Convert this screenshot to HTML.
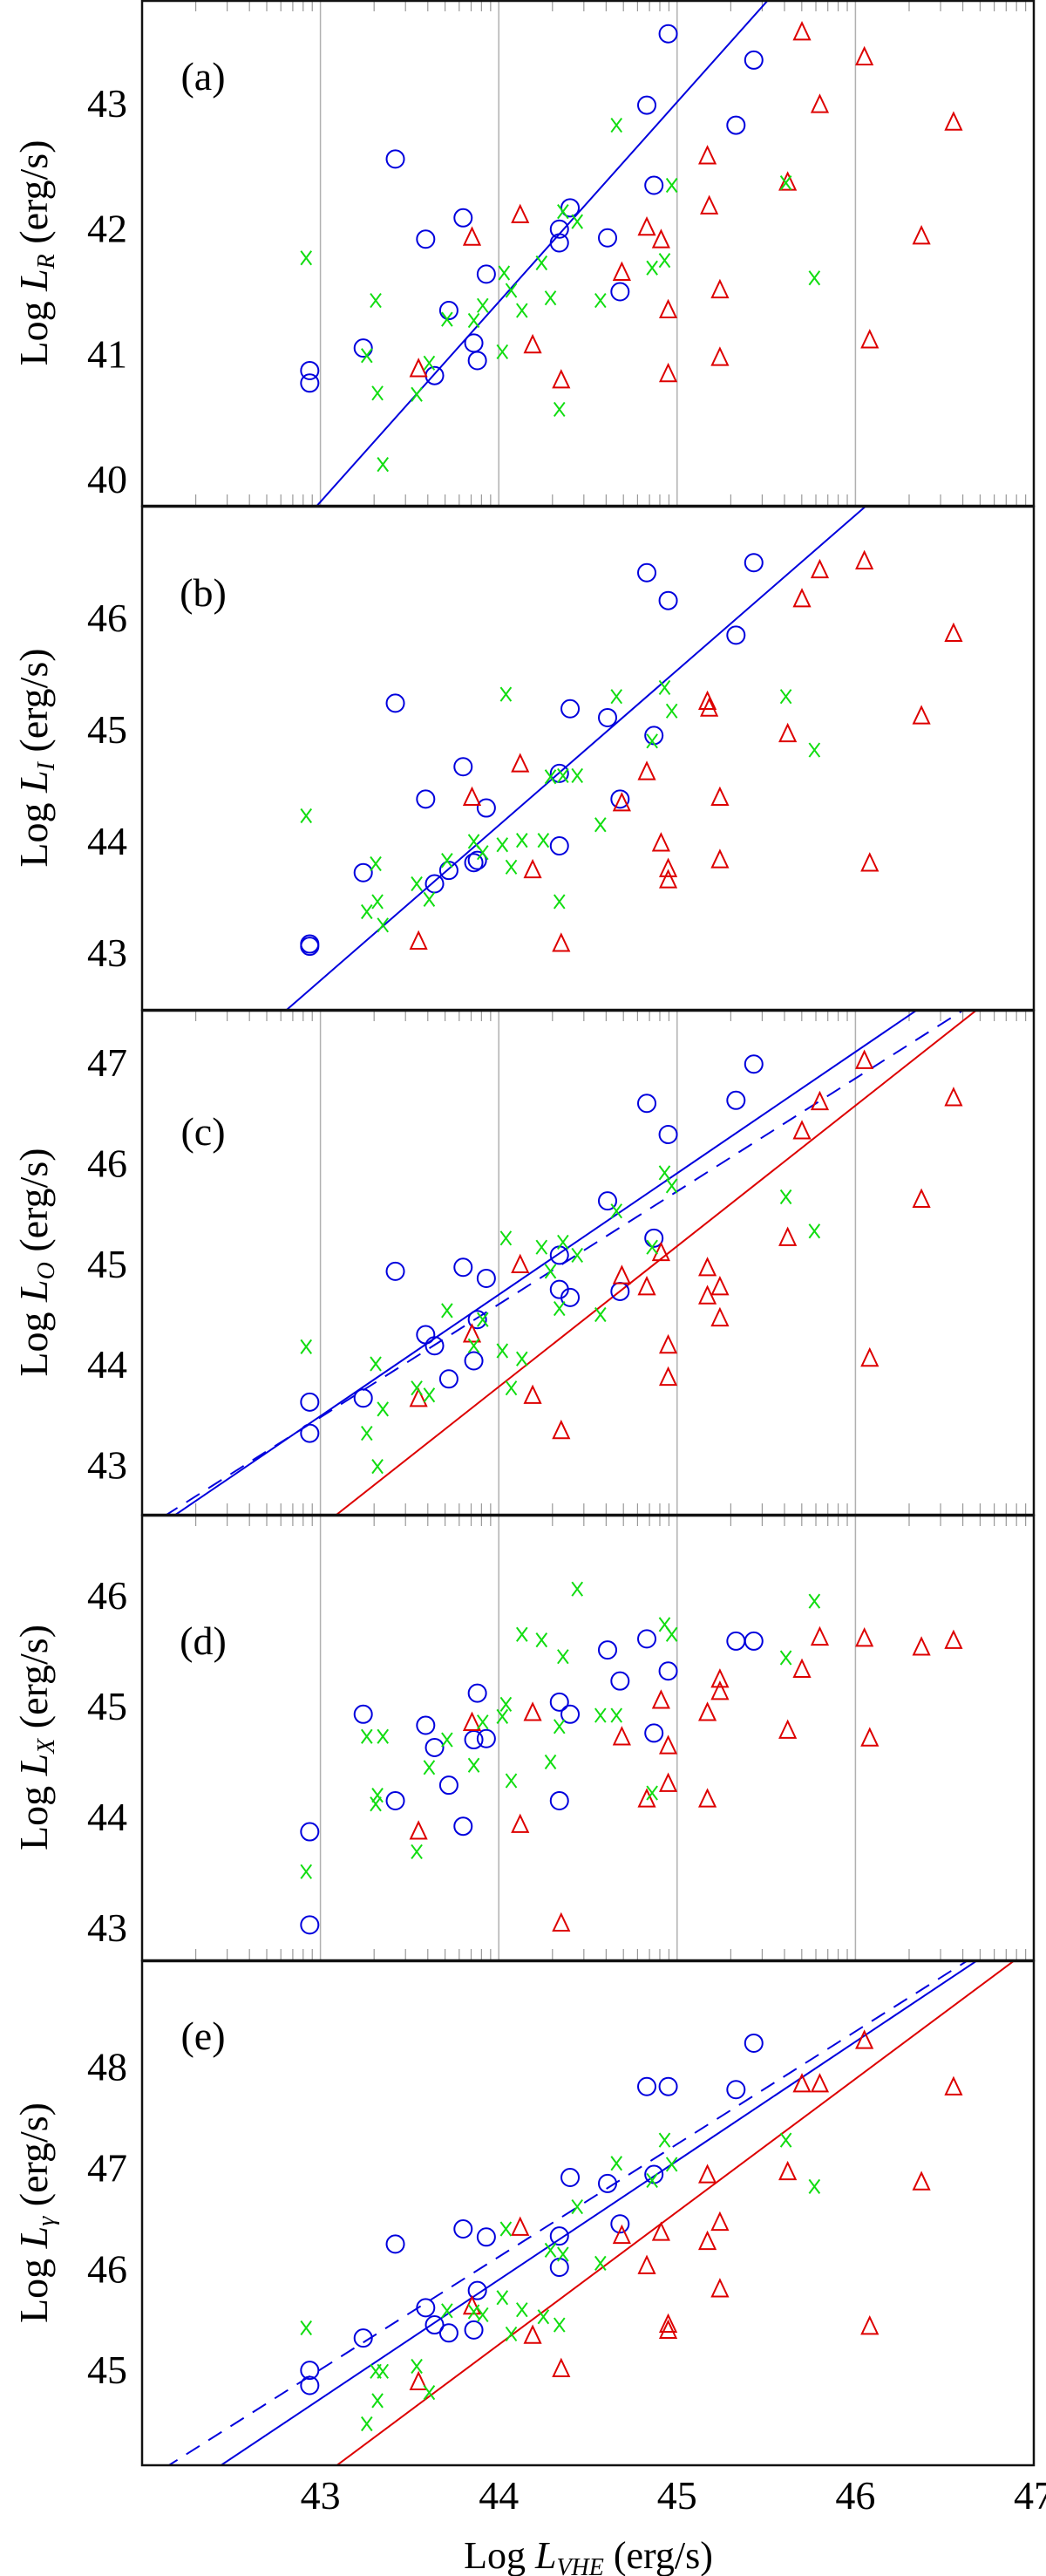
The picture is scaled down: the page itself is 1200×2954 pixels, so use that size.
<!DOCTYPE html>
<html><head><meta charset="utf-8"><title>Luminosity correlations</title>
<style>html,body{margin:0;padding:0;background:#fff}svg{display:block}
svg text{font-family:"Liberation Serif","Times New Roman",serif}</style></head>
<body>
<svg id="fig" xmlns="http://www.w3.org/2000/svg" width="1200" height="2954" viewBox="0 0 1200 2954"></svg>
<script>
// ---- data ----
const xTicks = [43, 44, 45, 46, 47];
const panelNames = ['a', 'b', 'c', 'd', 'e'];
const panelLabels = ['(a)', '(b)', '(c)', '(d)', '(e)'];
const yTitles = ['R', 'I', 'O', 'X', 'γ'];
const yDomains = [[39.79, 43.83], [42.49, 47.01], [42.51, 47.53], [42.71, 46.73], [44.06, 49.06]];
const yTicksA = [40, 41, 42, 43];
const yTicksB = [43, 44, 45, 46];
const yTicksC = [43, 44, 45, 46, 47];
const yTicksD = [43, 44, 45, 46];
const yTicksE = [45, 46, 47, 48];

const aBlueX = [44.95,45.43,44.83,45.33,43.42,44.87,44.40,43.80,43.59,44.34,44.34,44.61,43.93,44.68,43.72,43.24,43.86,43.88,42.94,42.94,43.64];
const aBlueY = [43.56,43.35,42.99,42.83,42.56,42.35,42.17,42.09,41.92,42.00,41.89,41.93,41.64,41.50,41.35,41.05,41.09,40.95,40.87,40.77,40.83];
const aRedX = [45.70,46.05,45.80,46.55,45.17,45.62,45.18,44.12,43.85,44.83,44.91,46.37,44.69,45.24,44.95,44.19,46.08,45.24,43.55,44.95,44.35];
const aRedY = [43.57,43.37,42.99,42.85,42.58,42.37,42.18,42.11,41.93,42.01,41.91,41.94,41.65,41.51,41.35,41.07,41.11,40.97,40.88,40.84,40.79];
const aGreenX = [42.92,44.66,44.97,45.61,44.36,44.44,44.24,44.93,44.86,44.03,45.77,44.07,43.31,44.29,44.57,43.91,44.13,43.71,43.86,44.02,43.26,43.61,43.32,43.54,44.34,43.35];
const aGreenY = [41.77,42.83,42.35,42.37,42.14,42.06,41.73,41.75,41.69,41.65,41.61,41.51,41.43,41.45,41.43,41.39,41.35,41.28,41.27,41.02,40.99,40.93,40.69,40.68,40.56,40.12];

const bBlueX = [44.83,45.43,44.95,45.33,43.42,44.40,44.61,44.87,43.80,44.34,43.59,44.68,43.93,44.34,43.24,43.86,43.88,43.72,43.64,42.94,42.94];
const bBlueY = [46.41,46.50,46.16,45.85,45.24,45.19,45.11,44.95,44.67,44.61,44.38,44.38,44.30,43.96,43.72,43.81,43.83,43.74,43.62,43.08,43.06];
const bRedX = [46.05,45.80,45.70,46.55,45.17,45.18,46.37,45.62,44.12,44.83,43.85,44.69,45.24,44.91,45.24,46.08,44.19,44.95,44.95,43.55,44.35];
const bRedY = [46.51,46.43,46.17,45.86,45.25,45.19,45.12,44.96,44.69,44.62,44.39,44.34,44.39,43.98,43.83,43.80,43.74,43.75,43.65,43.10,43.08];
const bGreenX = [42.92,44.04,44.66,44.93,45.61,44.97,44.86,45.77,44.29,44.36,44.44,44.57,43.86,44.02,44.13,44.25,43.91,43.71,43.31,44.07,43.54,43.61,43.32,43.26,43.35,44.34];
const bGreenY = [44.23,45.32,45.30,45.38,45.30,45.17,44.90,44.82,44.58,44.59,44.59,44.15,44.00,43.97,44.01,44.01,43.90,43.83,43.80,43.77,43.62,43.48,43.46,43.37,43.25,43.46];

const cBlueX = [45.43,45.33,44.83,44.95,44.61,44.87,44.34,43.42,43.80,43.93,44.34,44.40,44.68,43.88,43.59,43.64,43.86,43.72,43.24,42.94,42.94];
const cBlueY = [46.99,46.63,46.60,46.29,45.63,45.26,45.09,44.93,44.97,44.86,44.75,44.67,44.73,44.45,44.30,44.19,44.04,43.86,43.67,43.63,43.32];
const cRedX = [46.05,45.80,46.55,45.70,46.37,45.62,44.91,44.12,45.17,44.69,44.83,45.24,45.17,45.24,43.85,44.95,46.08,44.95,43.55,44.19,44.35];
const cRedY = [47.02,46.61,46.65,46.32,45.64,45.26,45.11,44.99,44.96,44.88,44.77,44.77,44.68,44.46,44.30,44.19,44.06,43.87,43.66,43.69,43.34];
const cGreenX = [42.92,44.93,44.97,45.61,44.66,45.77,44.04,44.36,44.24,44.86,44.44,44.29,43.71,44.34,44.57,43.91,43.86,44.02,43.31,44.13,44.07,43.54,43.61,43.35,43.26,43.32];
const cGreenY = [44.18,45.91,45.78,45.67,45.53,45.33,45.26,45.22,45.17,45.17,45.09,44.93,44.54,44.56,44.50,44.45,44.19,44.14,44.01,44.06,43.77,43.77,43.70,43.56,43.32,42.99];

const dBlueX = [42.94,42.94,43.24,43.42,43.59,43.64,43.72,43.80,43.86,43.93,43.88,44.34,44.40,44.34,44.61,44.68,44.83,44.87,44.95,45.33,45.43];
const dBlueY = [43.87,43.03,44.93,44.15,44.83,44.63,44.29,43.92,44.70,44.71,45.12,45.04,44.93,44.15,45.51,45.23,45.61,44.76,45.32,45.59,45.59];
const dRedX = [43.55,43.85,44.12,44.19,44.35,44.69,44.83,44.91,44.95,44.95,45.17,45.17,45.24,45.24,45.62,45.70,45.80,46.05,46.08,46.37,46.55];
const dRedY = [43.87,44.85,43.93,44.94,43.04,44.72,44.16,45.05,44.64,44.30,44.94,44.16,45.24,45.13,44.78,45.33,45.62,45.61,44.71,45.53,45.59];
const dGreenX = [42.92,43.26,43.35,43.31,43.32,43.54,43.61,43.71,43.86,43.91,44.02,44.04,44.07,44.13,44.24,44.29,44.36,44.34,44.44,44.57,44.66,44.86,44.93,44.97,45.61,45.77];
const dGreenY = [43.51,44.73,44.73,44.12,44.20,43.69,44.45,44.70,44.47,44.86,44.91,45.02,44.33,45.65,45.60,44.50,45.45,44.82,46.06,44.92,44.92,44.22,45.74,45.65,45.44,45.95];

const eBlueX = [45.43,44.83,44.95,45.33,44.40,44.61,44.87,43.80,43.93,43.42,44.68,44.34,44.34,43.88,43.59,43.64,43.72,43.86,43.24,42.94,42.94];
const eBlueY = [48.24,47.81,47.81,47.78,46.91,46.85,46.94,46.40,46.32,46.25,46.45,46.33,46.02,45.79,45.62,45.45,45.37,45.40,45.32,45.00,44.85];
const eRedX = [46.05,45.70,45.80,46.55,45.17,45.62,46.37,45.24,44.12,44.69,44.91,45.17,44.83,45.24,43.85,44.95,44.95,46.08,44.19,44.35,43.55];
const eRedY = [48.26,47.83,47.83,47.80,46.93,46.96,46.86,46.46,46.41,46.33,46.36,46.27,46.03,45.80,45.63,45.45,45.39,45.43,45.34,45.01,44.88];
const eGreenX = [42.92,44.93,45.61,44.66,44.97,44.86,45.77,44.44,44.04,44.29,44.36,44.57,44.02,44.13,43.71,43.86,43.91,44.25,44.34,44.07,43.54,43.31,43.35,43.32,43.61,43.26];
const eGreenY = [45.42,47.28,47.28,47.05,47.04,46.88,46.82,46.62,46.40,46.19,46.15,46.06,45.72,45.60,45.59,45.58,45.55,45.53,45.45,45.36,45.04,44.99,44.99,44.70,44.78,44.47];

// fit lines: [slope, intercept]
const fitA = [[1.597, -28.85]];
const fitB = [[1.391, -17.06]];
const fitC = [[1.207, -8.41], [1.123, -4.81], [1.398, -17.73]];
const fitD = [];
const fitE = [[1.179, -5.98], [1.116, -2.98], [1.316, -12.65]];
const fitKinds = ['blue-solid', 'blue-dashed', 'red-solid'];

// ---- layout ----
const NS = 'http://www.w3.org/2000/svg';
const svg = document.getElementById('fig');
const X0 = 163, X1 = 1186, XMIN = 42, XMAX = 47;
const panelTops = [0, 580, 1158, 1737, 2248, 2827];
const labelOffsets = [88, 100, 140, 145, 87];
const hasGrid = [true, false, true, true, false];
const BLUE = '#0000dd', RED = '#dd0000', GREEN = '#11dd11';
function sx(v) { return X0 + (v - XMIN) / (XMAX - XMIN) * (X1 - X0); }
function mk(tag, attrs, parent) {
  const e = document.createElementNS(NS, tag);
  for (const k in attrs) e.setAttribute(k, attrs[k]);
  (parent || svg).appendChild(e);
  return e;
}
const defs = mk('defs', {});

const allY = [yTicksA, yTicksB, yTicksC, yTicksD, yTicksE];
const allData = [
  [aBlueX, aBlueY, aRedX, aRedY, aGreenX, aGreenY],
  [bBlueX, bBlueY, bRedX, bRedY, bGreenX, bGreenY],
  [cBlueX, cBlueY, cRedX, cRedY, cGreenX, cGreenY],
  [dBlueX, dBlueY, dRedX, dRedY, dGreenX, dGreenY],
  [eBlueX, eBlueY, eRedX, eRedY, eGreenX, eGreenY]];
const allFits = [fitA, fitB, fitC, fitD, fitE];

for (let p = 0; p < 5; p++) {
  const top = panelTops[p], bot = panelTops[p + 1];
  const [ymin, ymax] = yDomains[p];
  const sy = v => bot - (v - ymin) / (ymax - ymin) * (bot - top);
  const g = mk('g', {});
  
  
  const cp = mk('clipPath', { id: 'clip' + p }, defs);
  mk('rect', { x: X0, y: top, width: X1 - X0, height: bot - top }, cp);

  if (hasGrid[p]) {
    for (let t = 43; t <= 46; t++) {
      const gl = mk('line', { x1: sx(t), x2: sx(t), y1: top, y2: bot, stroke: '#b0b0b0', 'stroke-width': 1.5 }, g);
      
      
    }
    for (let d = 42; d < 47; d++) {
      for (let m = 2; m <= 9; m++) {
        const xx = sx(d + Math.log10(m));
        const t1 = mk('line', { x1: xx, x2: xx, y1: top, y2: top + 13, stroke: '#999', 'stroke-width': 1.2 }, g);
        
        
        const t2 = mk('line', { x1: xx, x2: xx, y1: bot - 13, y2: bot, stroke: '#999', 'stroke-width': 1.2 }, g);
        
        
      }
    }
  }

  const fits = allFits[p];
  for (let i = 0; i < fits.length; i++) {
    const [m, b] = fits[i];
    const kind = fitKinds[i];
    const ln = mk('line', { x1: sx(XMIN), y1: sy(m * XMIN + b), x2: sx(XMAX), y2: sy(m * XMAX + b),
      stroke: kind.startsWith('red') ? RED : BLUE, 'stroke-width': 2,
      'stroke-dasharray': kind.endsWith('dashed') ? '18 12' : 'none', 'clip-path': 'url(#clip' + p + ')' }, g);
    
    
  }

  const [bx, by, rx, ry, gx, gy] = allData[p];
  for (let i = 0; i < bx.length; i++) {
    const c = mk('circle', { cx: sx(bx[i]), cy: sy(by[i]), r: 10, fill: 'none', stroke: BLUE, 'stroke-width': 2 }, g);
    
    
  }
  for (let i = 0; i < rx.length; i++) {
    const cx = sx(rx[i]), cy = sy(ry[i]);
    const t = mk('polygon', { points: `${cx},${cy - 11} ${cx - 9},${cy + 8} ${cx + 9},${cy + 8}`, fill: 'none', stroke: RED, 'stroke-width': 2 }, g);
    
    
  }
  for (let i = 0; i < gx.length; i++) {
    const cx = sx(gx[i]), cy = sy(gy[i]);
    const x = mk('path', { d: `M${cx - 6},${cy - 8}L${cx + 6},${cy + 8}M${cx + 6},${cy - 8}L${cx - 6},${cy + 8}`, stroke: GREEN, 'stroke-width': 2, fill: 'none' }, g);
    
    
  }

  const fr = mk('rect', { x: X0, y: top + 1, width: X1 - X0, height: bot - top - 1, fill: 'none', stroke: '#111', 'stroke-width': 2.5 }, g);
  
  

  for (const v of allY[p]) {
    const tl = mk('text', { x: 146, y: sy(v) + 15, 'text-anchor': 'end', 'font-size': 46, fill: '#000' }, g);
    tl.textContent = v;
    
    
  }
  const pl = mk('text', { x: 233, y: top + labelOffsets[p] + 15, 'text-anchor': 'middle', 'font-size': 46, fill: '#000' }, g);
  pl.textContent = panelLabels[p];
  
  
  const cy = (top + bot) / 2;
  const yt = mk('text', { x: 0, y: 0, transform: `translate(54,${cy}) rotate(-90)`, 'text-anchor': 'middle', 'font-size': 46, fill: '#000' }, g);
  
  
  const t1 = mk('tspan', {}, yt); t1.textContent = 'Log ';
  const t2 = mk('tspan', { 'font-style': 'italic' }, yt); t2.textContent = 'L';
  const t3 = mk('tspan', { 'font-style': 'italic', 'font-size': 28, dy: 8 }, yt); t3.textContent = yTitles[p];
  const t4 = mk('tspan', { dy: -8 }, yt); t4.textContent = ' (erg/s)';
}

for (const v of xTicks) {
  const tl = mk('text', { x: sx(v), y: 2877, 'text-anchor': 'middle', 'font-size': 46, fill: '#000' });
  tl.textContent = v;
  
  
}
const xt = mk('text', { x: 675, y: 2945, 'text-anchor': 'middle', 'font-size': 44, fill: '#000' });


const a1 = mk('tspan', {}, xt); a1.textContent = 'Log ';
const a2 = mk('tspan', { 'font-style': 'italic' }, xt); a2.textContent = 'L';
const a3 = mk('tspan', { 'font-style': 'italic', 'font-size': 28, dy: 8 }, xt); a3.textContent = 'VHE';
const a4 = mk('tspan', { dy: -8 }, xt); a4.textContent = ' (erg/s)';
</script>
</body></html>
